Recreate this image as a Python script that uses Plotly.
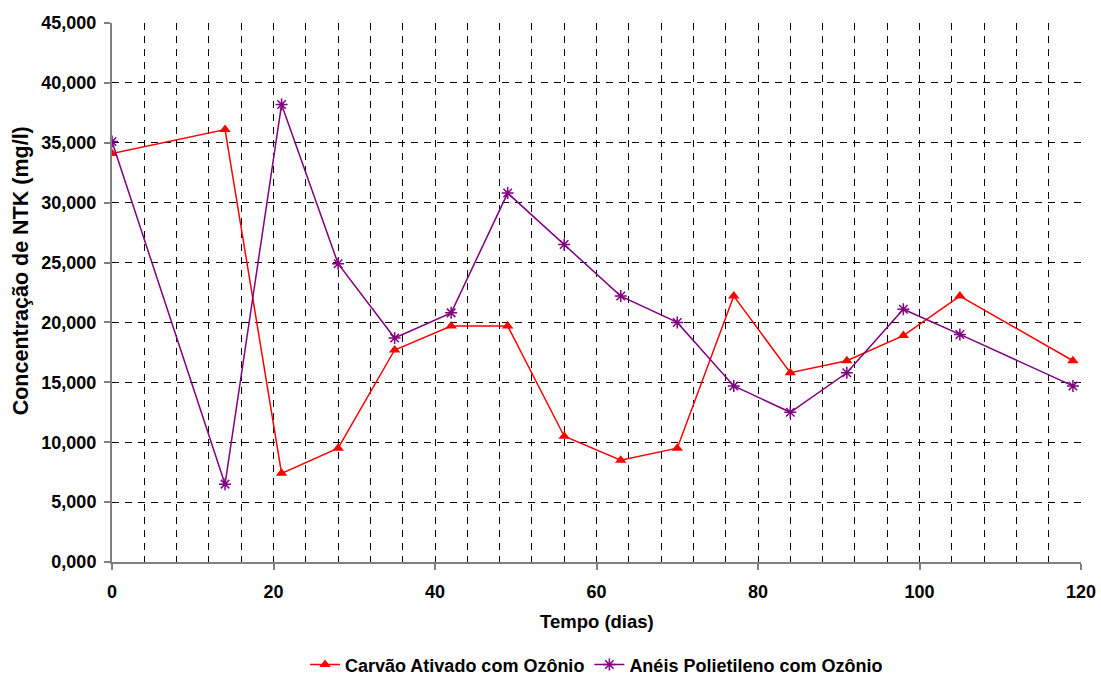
import plotly.graph_objects as go

# Tempo (dias) e concentração de NTK (mg/l)
dias = [0, 14, 21, 28, 35, 42, 49, 56, 63, 70, 77, 84, 91, 98, 105, 119]
carvao_ozonio = [34.1, 36.1, 7.4, 9.5, 17.7, 19.7, 19.7, 10.5, 8.5, 9.5,
                 22.2, 15.8, 16.8, 18.9, 22.2, 16.8]
aneis_ozonio = [35.1, 6.5, 38.2, 24.9, 18.7, 20.8, 30.8, 26.5, 22.2, 20.0,
                14.7, 12.5, 15.8, 21.1, 19.0, 14.7]

y_ticks = [0, 5, 10, 15, 20, 25, 30, 35, 40, 45]
y_labels = ["0,000", "5,000", "10,000", "15,000", "20,000", "25,000",
            "30,000", "35,000", "40,000", "45,000"]

font_family = "Liberation Sans, Arial, sans-serif"

fig = go.Figure()
fig.add_trace(go.Scatter(
    x=dias, y=carvao_ozonio, mode="lines+markers",
    name="Carvão Ativado com Ozônio",
    line=dict(color="#FF0000", width=1.5),
    marker=dict(symbol="triangle-up", size=10, color="#FF0000"),
))
fig.add_trace(go.Scatter(
    x=dias, y=aneis_ozonio, mode="lines+markers",
    name="Anéis Polietileno com Ozônio",
    line=dict(color="#800080", width=1.5),
    marker=dict(symbol="asterisk-open", size=10, color="#800080",
                line=dict(color="#800080", width=1.5)),
))

grid_dash = "7px,6px"

fig.update_layout(
    width=1101, height=677,
    margin=dict(l=112, r=20, t=23, b=115, autoexpand=False),
    plot_bgcolor="white", paper_bgcolor="white",
    font=dict(family=font_family, size=18, color="black", weight="bold"),
    showlegend=True,
    legend=dict(orientation="h", x=0.5, xanchor="center",
                yref="container", y=0.018, yanchor="middle",
                font=dict(size=18, weight="bold"), tracegroupgap=0),
    xaxis=dict(
        range=[0, 120], tick0=0, dtick=20,
        showline=True, linecolor="#808080", linewidth=2,
        ticks="outside", ticklen=6, tickcolor="#808080", tickwidth=1.5,
        ticklabelstandoff=6,
        showgrid=True, gridcolor="#000000", gridwidth=1, griddash=grid_dash,
        minor=dict(dtick=4, tick0=0, showgrid=True, gridcolor="#000000",
                   gridwidth=1, griddash=grid_dash, ticks=""),
        zeroline=False,
        tickfont=dict(size=18, weight="bold"),
    ),
    yaxis=dict(
        range=[0, 45], tickvals=y_ticks, ticktext=y_labels,
        showline=True, linecolor="#808080", linewidth=2,
        ticks="outside", ticklen=6, tickcolor="#808080", tickwidth=1.5,
        ticklabelstandoff=4,
        showgrid=True, gridcolor="#000000", gridwidth=1, griddash=grid_dash,
        zeroline=False,
        tickfont=dict(size=18, weight="bold"),
    ),
    annotations=[
        dict(text="Tempo (dias)", xref="paper", yref="paper", x=0.5, y=-0.1113,
             xanchor="center", yanchor="middle", showarrow=False,
             font=dict(size=18.5, weight="bold")),
        dict(text="Concentração de NTK (mg/l)", xref="paper", yref="paper",
             x=-0.094, y=0.541, xanchor="center", yanchor="middle",
             textangle=-90, showarrow=False,
             font=dict(size=21.5, weight="bold")),
    ],
)

fig.write_html("out.html")
